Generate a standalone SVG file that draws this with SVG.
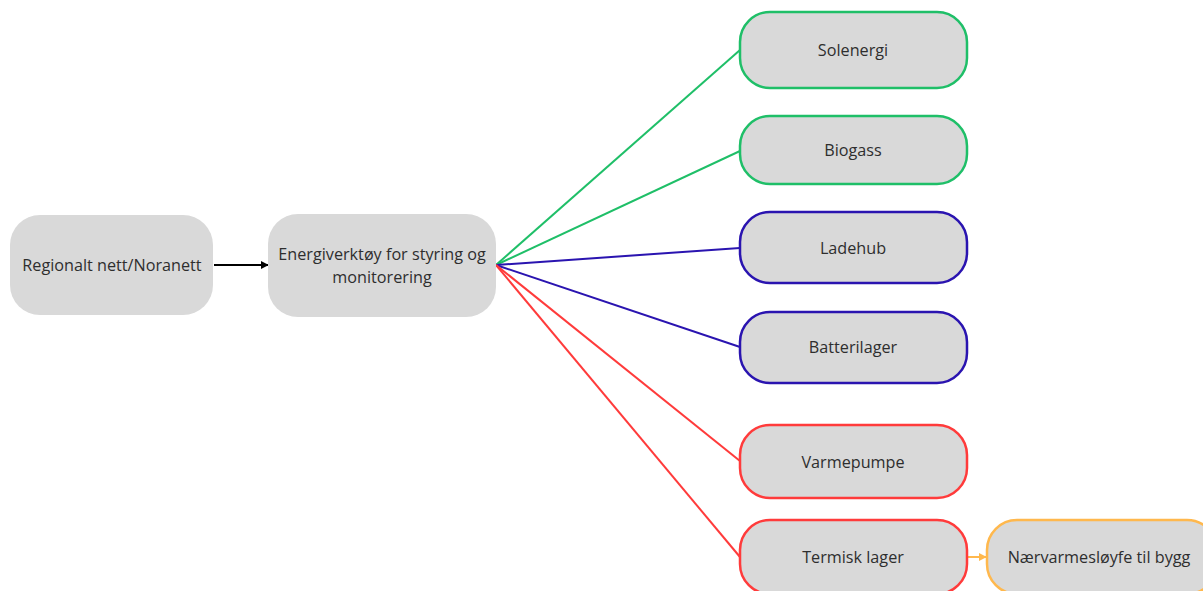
<svg xmlns="http://www.w3.org/2000/svg" width="1203" height="591" viewBox="0 0 1203 591">
<defs>
<style>
.n{fill:#d9d9d9}
.t{font-family:"Open Sans","Noto Sans","Liberation Sans",sans-serif;font-size:16.2px;fill:#2e2e2e;text-anchor:middle;dominant-baseline:central}
.g{stroke:#1fbf68}
.b{stroke:#2a14b0}
.r{stroke:#ff3b3b}
.o{stroke:#ffb84d}
.c{fill:none;stroke-width:2}
.bd{stroke-width:2.5}
</style>
<marker id="ak" viewBox="0 0 10 10" refX="9" refY="5" markerWidth="4" markerHeight="4" orient="auto" markerUnits="strokeWidth"><path d="M0,0 L10,5 L0,10 z" fill="#000"/></marker>
<marker id="ao" viewBox="0 0 10 10" refX="9" refY="5" markerWidth="4" markerHeight="4" orient="auto" markerUnits="strokeWidth"><path d="M0,0 L10,5 L0,10 z" fill="#ffb84d"/></marker>
</defs>
<rect width="1203" height="591" fill="#fff"/>
<g id="connectors">
<line class="c" x1="214" y1="265" x2="268" y2="265" stroke="#000" stroke-width="2.4" marker-end="url(#ak)"/>
<line class="c g" x1="496" y1="265" x2="740" y2="50"/>
<line class="c g" x1="496" y1="265" x2="740" y2="151"/>
<line class="c b" x1="496" y1="265" x2="740" y2="248"/>
<line class="c b" x1="496" y1="265" x2="740" y2="347"/>
<line class="c r" x1="496" y1="265" x2="740" y2="461"/>
<line class="c r" x1="496" y1="265" x2="740" y2="557"/>
<line class="c o" x1="967" y1="557" x2="986" y2="557" marker-end="url(#ao)"/>
</g>
<g id="regionalt">
<rect class="n" x="10" y="215" width="203" height="100" rx="30"/>
<text class="t" x="112" y="265">Regionalt nett/Noranett</text>
</g>
<g id="energiverktoy">
<rect class="n" x="268" y="214" width="228" height="103" rx="30"/>
<text class="t" x="382" y="254">Energiverktøy for styring og</text>
<text class="t" x="382" y="277">monitorering</text>
</g>
<g id="solenergi">
<rect class="n g bd" x="740" y="12" width="227" height="76" rx="30"/>
<text class="t" x="853" y="50">Solenergi</text>
</g>
<g id="biogass">
<rect class="n g bd" x="740" y="116" width="227" height="68" rx="30"/>
<text class="t" x="853" y="150">Biogass</text>
</g>
<g id="ladehub">
<rect class="n b bd" x="740" y="212" width="227" height="71" rx="30"/>
<text class="t" x="853" y="248">Ladehub</text>
</g>
<g id="batterilager">
<rect class="n b bd" x="740" y="312" width="227" height="71" rx="30"/>
<text class="t" x="853" y="347">Batterilager</text>
</g>
<g id="varmepumpe">
<rect class="n r bd" x="740" y="425" width="227" height="73" rx="30"/>
<text class="t" x="853" y="462">Varmepumpe</text>
</g>
<g id="termisk">
<rect class="n r bd" x="740" y="520" width="227" height="74" rx="30"/>
<text class="t" x="853" y="557">Termisk lager</text>
</g>
<g id="naervarme">
<rect class="n o bd" x="987" y="520" width="230" height="74" rx="30"/>
<text class="t" x="1099" y="557">Nærvarmesløyfe til bygg</text>
</g>
</svg>
